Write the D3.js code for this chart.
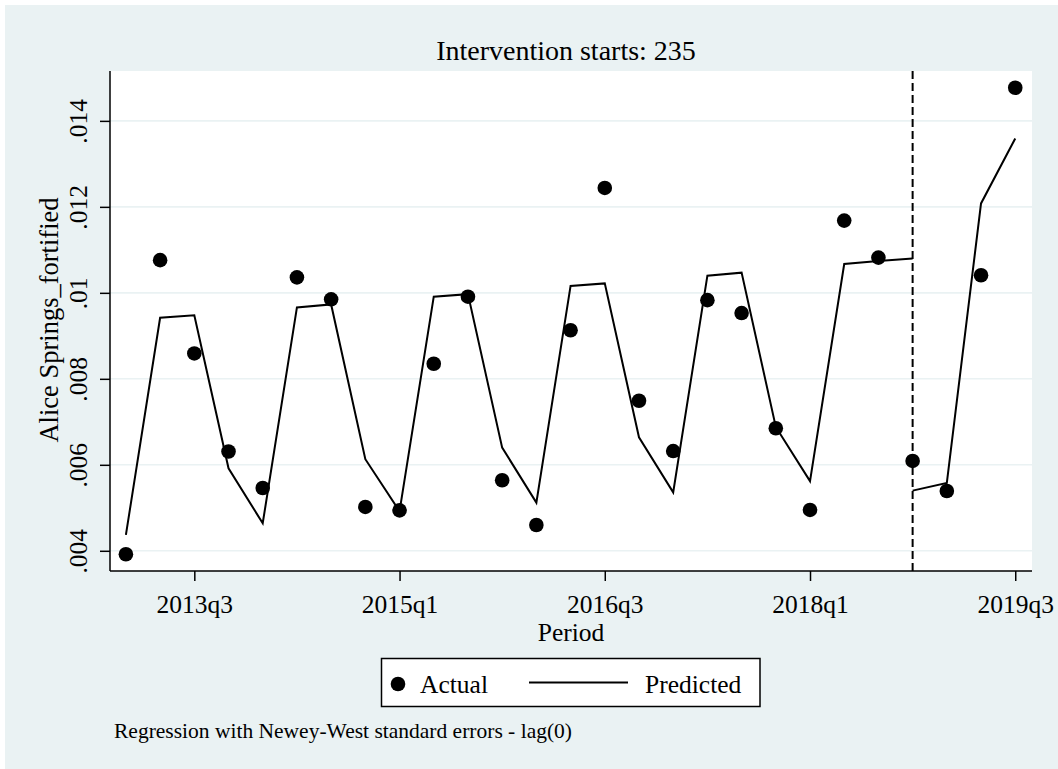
<!DOCTYPE html>
<html>
<head>
<meta charset="utf-8">
<script src="https://cdn.jsdelivr.net/npm/d3@7"></script>
<style>
  html, body { margin: 0; padding: 0; background: #ffffff; }
  svg { display: block; }
  text { font-family: "Liberation Serif", "Times New Roman", serif; fill: #000; }
</style>
</head>
<body>
<svg id="chart" width="1058" height="769"></svg>
<script>
// ---- data (Stata quarterly index: 212 = 2013q1) ----
const startQuarter = 212;
const quarterLabels = ["2013q1","2013q2","2013q3","2013q4","2014q1","2014q2","2014q3","2014q4",
  "2015q1","2015q2","2015q3","2015q4","2016q1","2016q2","2016q3","2016q4",
  "2017q1","2017q2","2017q3","2017q4","2018q1","2018q2","2018q3","2018q4",
  "2019q1","2019q2","2019q3"];
const actual = [0.00392, 0.01076, 0.00859, 0.00631, 0.00546, 0.01036, 0.00985, 0.00502,
  0.00494, 0.00835, 0.00991, 0.00564, 0.00460, 0.00913, 0.01244, 0.00749,
  0.00632, 0.00983, 0.00953, 0.00685, 0.00495, 0.01168, 0.01082, 0.00609,
  0.00539, 0.01041, 0.01477];
const predictedPre = [0.00437, 0.00942, 0.00948, 0.00592, 0.00464, 0.00966, 0.00973, 0.00613,
  0.00492, 0.00991, 0.00997, 0.00640, 0.00512, 0.01016, 0.01022, 0.00664,
  0.00536, 0.01040, 0.01047, 0.00688, 0.00562, 0.01067, 0.01074, 0.01080];
const predictedPost = [0.00540, 0.00558, 0.01208, 0.01359];
const interventionQuarter = 235;
const xTickValues = [214, 220, 226, 232, 238];
const xTickLabels = ["2013q3", "2015q1", "2016q3", "2018q1", "2019q3"];
const yTickValues = [0.004, 0.006, 0.008, 0.010, 0.012, 0.014];
const yTickLabels = [".004", ".006", ".008", ".01", ".012", ".014"];
const titleText = "Intervention starts: 235";
const xTitle = "Period";
const yTitle = "Alice Springs_fortified";
const noteText = "Regression with Newey-West standard errors - lag(0)";
const legendLabels = ["Actual", "Predicted"];

// ---- layout ----
const svg = d3.select("#chart");
const W = 1058, H = 769;
const plot = { left: 110, right: 1032, top: 71, bottom: 571 };
const bg = "#eaf2f3";

svg.append("rect").attr("x", 5).attr("y", 5).attr("width", W - 5).attr("height", H - 5).attr("fill", bg);
svg.append("rect").attr("x", plot.left).attr("y", plot.top)
  .attr("width", plot.right - plot.left).attr("height", plot.bottom - plot.top).attr("fill", "#ffffff");

const x = d3.scaleLinear().domain([211.535, 238.49]).range([plot.left, plot.right]);
const y = d3.scaleLinear().domain([0.00353, 0.01516]).range([plot.bottom, plot.top]);

// grid
svg.append("g").selectAll("line").data(yTickValues).join("line")
  .attr("x1", plot.left).attr("x2", plot.right)
  .attr("y1", d => y(d)).attr("y2", d => y(d))
  .attr("stroke", bg).attr("stroke-width", 1.6);

// y axis
const yAxis = svg.append("g").attr("transform", `translate(${plot.left},0)`)
  .call(d3.axisLeft(y).tickValues(yTickValues).tickSize(10).tickSizeOuter(0)
    .tickFormat((d, i) => yTickLabels[i]));
yAxis.select(".domain").attr("stroke", "#000").attr("stroke-width", 1.5);
yAxis.selectAll(".tick line").attr("stroke", "#000").attr("stroke-width", 1.5);
yAxis.selectAll(".tick text")
  .attr("x", 0).attr("dy", null).attr("y", null)
  .attr("transform", "translate(-23,0) rotate(-90)")
  .attr("text-anchor", "middle")
  .style("font-size", "25.5px").style("font-family", "Liberation Serif");

// x axis
const xAxis = svg.append("g").attr("transform", `translate(0,${plot.bottom})`)
  .call(d3.axisBottom(x).tickValues(xTickValues).tickSize(10).tickSizeOuter(0)
    .tickFormat((d, i) => xTickLabels[i]));
xAxis.select(".domain").attr("stroke", "#000").attr("stroke-width", 1.5);
xAxis.selectAll(".tick line").attr("stroke", "#000").attr("stroke-width", 1.5);
xAxis.selectAll(".tick text")
  .attr("y", 42).attr("dy", null)
  .attr("text-anchor", "middle")
  .style("font-size", "25.5px").style("font-family", "Liberation Serif");
xAxis.select(".domain").attr("d", `M${plot.left},0H${plot.right}`);
yAxis.select(".domain").attr("d", `M0,${plot.bottom}V${plot.top}`);

// intervention line
svg.append("line")
  .attr("x1", x(interventionQuarter)).attr("x2", x(interventionQuarter))
  .attr("y1", plot.top).attr("y2", plot.bottom)
  .attr("stroke", "#000").attr("stroke-width", 2).attr("stroke-dasharray", "8,4");

// predicted lines
const line = d3.line().x(d => x(d.t)).y(d => y(d.v));
const preData = predictedPre.map((v, i) => ({ t: startQuarter + i, v }));
const postData = predictedPost.map((v, i) => ({ t: interventionQuarter + i, v }));
[preData, postData].forEach(data => {
  svg.append("path").datum(data).attr("d", line)
    .attr("fill", "none").attr("stroke", "#000").attr("stroke-width", 2)
    .attr("stroke-linejoin", "miter");
});

// actual points
svg.append("g").selectAll("circle").data(actual).join("circle")
  .attr("cx", (d, i) => x(startQuarter + i)).attr("cy", d => y(d))
  .attr("r", 7.3).attr("fill", "#000");

// titles
svg.append("text").attr("x", 566).attr("y", 60).attr("text-anchor", "middle")
  .style("font-size", "28px").text(titleText);
svg.append("text").attr("x", (plot.left + plot.right) / 2).attr("y", 641).attr("text-anchor", "middle")
  .style("font-size", "25.5px").text(xTitle);
svg.append("text").attr("transform", `translate(58,320) rotate(-90)`)
  .attr("text-anchor", "middle").style("font-size", "26.5px").text(yTitle);

// legend
const lg = svg.append("g");
lg.append("rect").attr("x", 381.5).attr("y", 658.5).attr("width", 378.5).attr("height", 48)
  .attr("fill", "#fff").attr("stroke", "#000").attr("stroke-width", 1.5);
lg.append("circle").attr("cx", 398).attr("cy", 684).attr("r", 7.3).attr("fill", "#000");
lg.append("text").attr("x", 420).attr("y", 693).style("font-size", "25.5px").text(legendLabels[0]);
lg.append("line").attr("x1", 529).attr("x2", 628).attr("y1", 682.5).attr("y2", 682.5)
  .attr("stroke", "#000").attr("stroke-width", 2);
lg.append("text").attr("x", 645).attr("y", 693).style("font-size", "25.5px").text(legendLabels[1]);

// note
svg.append("text").attr("x", 114).attr("y", 737.5).style("font-size", "21.5px").text(noteText);
</script>
</body>
</html>
